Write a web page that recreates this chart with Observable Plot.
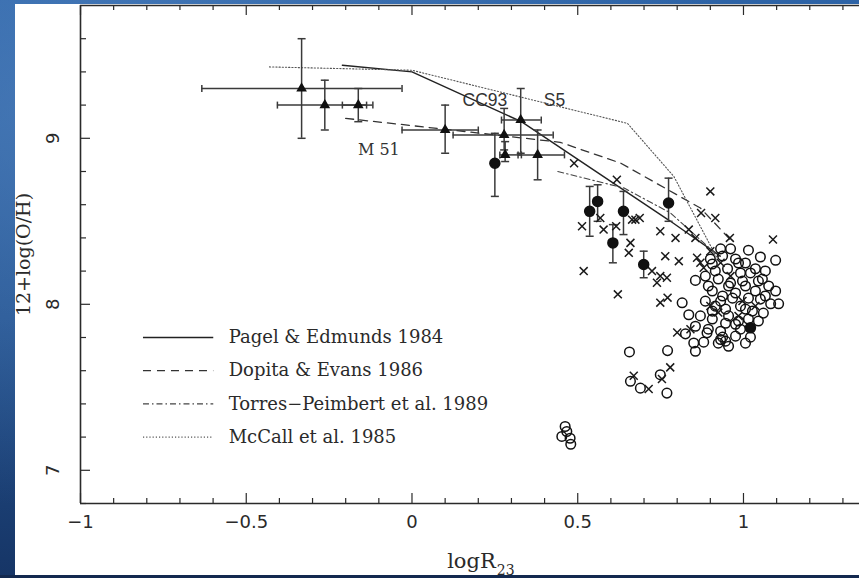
<!DOCTYPE html>
<html>
<head>
<meta charset="utf-8">
<script src="https://cdn.jsdelivr.net/npm/d3@7"></script>
<script src="https://cdn.jsdelivr.net/npm/@observablehq/plot@0.6"></script>
<style>
  html, body { margin: 0; padding: 0; }
  body {
    width: 859px; height: 578px; overflow: hidden; position: relative;
    background:
      radial-gradient(ellipse at 10% 20%, rgba(90,140,200,0.55), rgba(0,0,0,0) 60%),
      linear-gradient(180deg, #2d63a6 0%, #24528e 55%, #163566 100%);
  }
  #panel { position: absolute; left: 15px; top: 4px; width: 844px; height: 571px; background: #fff; }
  #chart { position: absolute; left: 0; top: 0; }
  #strip { position: absolute; left: 0; top: 575px; width: 859px; height: 3px; background: #13294f; z-index: 3; }
</style>
</head>
<body>
<div id="panel"></div>
<div id="chart"></div>
<div id="strip"></div>
<script>
// ---------- axis ticks ----------
const xMajorTicks = [-1, -0.5, 0, 0.5, 1];
const xMajorLabels = ["\u22121", "\u22120.5", "0", "0.5", "1"];
const xMinorTicks = [-0.9,-0.8,-0.7,-0.6,-0.4,-0.3,-0.2,-0.1,0.1,0.2,0.3,0.4,0.6,0.7,0.8,0.9,1.1,1.2,1.3];
const yMajorTicks = [7, 8, 9];
const yMajorLabels = ["7", "8", "9"];
const yMinorTicks = [6.8,7.2,7.4,7.6,7.8,8.2,8.4,8.6,8.8,9.2,9.4,9.6];

// ---------- calibration curves ----------
const pagelX = [-0.21, 0.0, 0.33, 0.78, 0.93];
const pagelY = [9.44, 9.40, 9.10, 8.50, 8.29];
const dopitaX = [-0.20, 0.12, 0.447, 0.63, 0.87, 0.96];
const dopitaY = [9.12, 9.05, 8.976, 8.85, 8.58, 8.39];
const torresX = [0.44, 0.64, 0.78, 0.93];
const torresY = [8.80, 8.70, 8.55, 8.28];
const mccallX = [-0.43, 0.0, 0.65, 0.79, 0.92];
const mccallY = [9.43, 9.41, 9.09, 8.77, 8.28];
const modelNames = ["Pagel & Edmunds 1984", "Dopita & Evans 1986", "Torres\u2212Peimbert et al. 1989", "McCall et al. 1985"];

// ---------- M51 & other galaxies: triangles with 2D errors ----------
const triX   = [-0.333, -0.263, -0.162, 0.100, 0.278, 0.281, 0.328, 0.379];
const triY   = [9.30, 9.20, 9.20, 9.05, 9.02, 8.90, 9.11, 8.90];
const triXlo = [-0.634, -0.406, -0.21, -0.03, 0.124, 0.265, 0.27, 0.32];
const triXhi = [-0.03, -0.137, -0.118, 0.20, 0.426, 0.33, 0.39, 0.46];
const triYlo = [9.00, 9.05, 9.10, 8.91, 8.93, 8.86, 8.91, 8.75];
const triYhi = [9.60, 9.35, 9.30, 9.20, 9.18, 8.98, 9.30, 9.05];

// ---------- filled circles with vertical errors ----------
const dotX   = [0.25, 0.536, 0.560, 0.606, 0.638, 0.699, 0.774];
const dotY   = [8.85, 8.56, 8.62, 8.37, 8.56, 8.24, 8.61];
const dotYlo = [8.65, 8.41, 8.50, 8.25, 8.42, 8.16, 8.50];
const dotYhi = [9.03, 8.71, 8.72, 8.48, 8.68, 8.32, 8.76];
const fillX = [1.021];
const fillY = [7.858];

// ---------- crosses ----------
const crossX = [0.489,0.618,0.900,0.872,0.915,0.959,1.089,0.513,0.578,0.568,0.664,0.687,0.659,0.654,0.518,0.764,0.805,0.749,0.795,0.835,0.855,0.724,0.749,0.769,0.739,0.860,0.880,0.621,0.749,0.771,0.800,0.840,0.669,0.714,0.754,0.779,0.616,0.674,0.900,0.931,0.961,0.997,1.036,0.924,0.900,0.870,0.985];
const crossY = [8.85,8.75,8.68,8.55,8.52,8.40,8.39,8.47,8.45,8.52,8.51,8.52,8.37,8.31,8.20,8.29,8.26,8.44,8.40,8.45,8.40,8.20,8.17,8.16,8.13,8.28,8.22,8.06,8.01,8.04,7.83,7.85,7.57,7.49,7.55,7.62,8.47,8.51,8.32,8.25,8.17,8.02,7.99,7.95,7.99,8.25,7.93];

// ---------- open circles ----------
const circX = [0.931,0.961,1.015,1.051,1.097,0.976,1.006,1.036,1.066,0.991,0.952,0.906,0.885,0.924,0.961,1.006,1.045,1.076,1.097,0.906,0.937,0.976,1.015,1.051,1.082,1.106,0.885,0.915,0.946,0.991,1.027,1.060,0.870,0.906,0.946,0.985,1.015,0.855,0.894,0.931,0.976,0.937,0.880,0.924,0.955,0.855,0.815,0.835,0.825,0.850,0.855,0.656,0.771,0.659,0.689,0.749,0.769,0.462,0.452,0.477,0.479,0.467,0.890,0.931,0.946,0.976,
  0.900,0.937,0.985,1.021,1.057,0.915,0.955,0.997,1.036,1.066,0.894,0.931,0.967,1.006,1.045,0.906,0.955,0.991,1.021,1.006];
const circY = [8.334,8.334,8.326,8.285,8.265,8.273,8.249,8.214,8.201,8.189,8.214,8.243,8.170,8.152,8.128,8.110,8.140,8.110,8.080,8.080,8.050,8.068,8.037,8.031,8.003,8.003,8.019,7.989,7.971,7.989,7.959,7.947,7.930,7.911,7.886,7.899,7.911,7.868,7.850,7.838,7.808,7.802,7.772,7.766,7.747,8.144,8.009,7.937,7.822,7.767,7.717,7.713,7.721,7.536,7.495,7.576,7.465,7.264,7.204,7.193,7.157,7.234,7.828,7.788,7.778,7.880,
  8.273,8.291,8.249,8.189,8.152,8.201,8.110,8.140,8.080,8.050,8.110,8.019,8.037,7.971,7.899,7.959,7.930,7.850,7.802,7.766];

// ---------- annotations ----------
const annText = ["M 51", "CC93", "S5"];
const annX = [-0.10, 0.22, 0.43];
const annY = [8.93, 9.23, 9.23];

// ---------- layout ----------
const W = 859, H = 578, mL = 80, mR = 0, mT = 5, mB = 75;
const plotW = W - mL - mR, plotH = H - mT - mB;
const ink = "#2a2a2a";
const serif = "DejaVu Serif";
const sans = "DejaVu Sans";

const capH = { draw(ctx, size) { const r = Math.sqrt(size / Math.PI); ctx.moveTo(-r, 0); ctx.lineTo(r, 0); } };
const capV = { draw(ctx, size) { const r = Math.sqrt(size / Math.PI); ctx.moveTo(0, -r); ctx.lineTo(0, r); } };

const idx = a => a.map((_, i) => i);
const styles = [
  { strokeDasharray: null, stroke: "#222", strokeWidth: 1.4 },
  { strokeDasharray: "8,6", stroke: "#333", strokeWidth: 1.3 },
  { strokeDasharray: "6,3,1.5,3", stroke: "#444", strokeWidth: 1.1 },
  { strokeDasharray: "1.2,2", stroke: "#555", strokeWidth: 1.1 }
];
const curves = [[pagelX, pagelY], [dopitaX, dopitaY], [torresX, torresY], [mccallX, mccallY]];

const marks = [];
// frame (left, top, bottom)
marks.push(Plot.ruleX([-1], { stroke: ink, strokeWidth: 1.6 }));
marks.push(Plot.ruleY([6.8, 9.8], { stroke: ink, strokeWidth: 1.6 }));
// inward ticks
marks.push(Plot.ruleX(xMinorTicks, { x: d => d, insetTop: plotH - 5, stroke: ink, strokeWidth: 1.2 }));
marks.push(Plot.ruleX(xMajorTicks, { x: d => d, insetTop: plotH - 10, stroke: ink, strokeWidth: 1.2 }));
marks.push(Plot.ruleX(xMinorTicks, { x: d => d, insetBottom: plotH - 5, stroke: ink, strokeWidth: 1.2 }));
marks.push(Plot.ruleX(xMajorTicks, { x: d => d, insetBottom: plotH - 10, stroke: ink, strokeWidth: 1.2 }));
marks.push(Plot.ruleY(yMinorTicks, { y: d => d, insetRight: plotW - 6, stroke: ink, strokeWidth: 1.2 }));
marks.push(Plot.ruleY(yMajorTicks, { y: d => d, insetRight: plotW - 10, stroke: ink, strokeWidth: 1.2 }));
// tick labels
marks.push(Plot.text(idx(xMajorTicks), { x: i => xMajorTicks[i], text: i => xMajorLabels[i], frameAnchor: "bottom", textAnchor: "middle", lineAnchor: "middle", dy: 19, fontSize: 18, fontFamily: sans, fill: ink }));
marks.push(Plot.text(idx(yMajorTicks), { y: i => yMajorTicks[i], text: i => yMajorLabels[i], frameAnchor: "left", textAnchor: "middle", lineAnchor: "middle", dx: -27, rotate: -90, fontSize: 18, fontFamily: sans, fill: ink }));
// axis titles
marks.push(Plot.text(["12+log(O/H)"], { frameAnchor: "left", textAnchor: "middle", lineAnchor: "middle", dx: -57, rotate: -90, fontSize: 19, fontFamily: serif, fill: ink }));
marks.push(Plot.text(["logR"], { x: [0.106], frameAnchor: "bottom", textAnchor: "start", lineAnchor: "middle", dy: 58, fontSize: 21, fontFamily: serif, fill: ink }));
marks.push(Plot.text(["23"], { x: [0.256], frameAnchor: "bottom", textAnchor: "start", lineAnchor: "middle", dy: 67, fontSize: 14, fontFamily: serif, fill: ink }));

// calibration curves
curves.forEach(([xs, ys], k) => {
  marks.push(Plot.line(idx(xs), { x: i => xs[i], y: i => ys[i], ...styles[k], curve: "linear" }));
});

// legend
const legY = [7.8, 7.6, 7.4, 7.2];
modelNames.forEach((name, k) => {
  marks.push(Plot.ruleY([legY[k]], { x1: -0.81, x2: -0.598, ...styles[k] }));
  marks.push(Plot.text([name], { x: -0.553, y: legY[k], textAnchor: "start", fontSize: 18, fontFamily: serif, fill: ink }));
});

// error bars: triangles
const eb = { stroke: "#3a3a3a", strokeWidth: 1.5 };
marks.push(Plot.ruleX(idx(triX), { x: i => triX[i], y1: i => triYlo[i], y2: i => triYhi[i], ...eb }));
marks.push(Plot.ruleY(idx(triX), { y: i => triY[i], x1: i => triXlo[i], x2: i => triXhi[i], ...eb }));
marks.push(Plot.dot(idx(triX), { x: i => triX[i], y: i => triYlo[i], symbol: capH, r: 4, stroke: "#3a3a3a", strokeWidth: 1.5, fill: "none" }));
marks.push(Plot.dot(idx(triX), { x: i => triX[i], y: i => triYhi[i], symbol: capH, r: 4, stroke: "#3a3a3a", strokeWidth: 1.5, fill: "none" }));
marks.push(Plot.dot(idx(triX), { x: i => triXlo[i], y: i => triY[i], symbol: capV, r: 3.5, stroke: "#3a3a3a", strokeWidth: 1.5, fill: "none" }));
marks.push(Plot.dot(idx(triX), { x: i => triXhi[i], y: i => triY[i], symbol: capV, r: 3.5, stroke: "#3a3a3a", strokeWidth: 1.5, fill: "none" }));
// error bars: filled circles
marks.push(Plot.ruleX(idx(dotX), { x: i => dotX[i], y1: i => dotYlo[i], y2: i => dotYhi[i], ...eb }));
marks.push(Plot.dot(idx(dotX), { x: i => dotX[i], y: i => dotYlo[i], symbol: capH, r: 4, stroke: "#3a3a3a", strokeWidth: 1.5, fill: "none" }));
marks.push(Plot.dot(idx(dotX), { x: i => dotX[i], y: i => dotYhi[i], symbol: capH, r: 4, stroke: "#3a3a3a", strokeWidth: 1.5, fill: "none" }));

// open circles
marks.push(Plot.dot(idx(circX), { x: i => circX[i], y: i => circY[i], symbol: "circle", r: 4.8, fill: "none", stroke: "#111", strokeWidth: 1.5 }));
// crosses
marks.push(Plot.dot(idx(crossX), { x: i => crossX[i], y: i => crossY[i], symbol: "times", r: 3.7, fill: "none", stroke: "#1a1a1a", strokeWidth: 1.5 }));
// filled circles
marks.push(Plot.dot(idx(dotX), { x: i => dotX[i], y: i => dotY[i], symbol: "circle", r: 5, fill: "#111", stroke: "#111" }));
marks.push(Plot.dot(idx(fillX), { x: i => fillX[i], y: i => fillY[i], symbol: "circle", r: 5, fill: "#111", stroke: "#111" }));
// triangles
marks.push(Plot.dot(idx(triX), { x: i => triX[i], y: i => triY[i], symbol: "triangle", r: 3.0, fill: "#111", stroke: "#111" }));

// annotations
marks.push(Plot.text([annText[0]], { x: [annX[0]], y: [annY[0]], fontSize: 16, fontFamily: serif, fill: "#333" }));
marks.push(Plot.text([annText[1], annText[2]], { x: [annX[1], annX[2]], y: [annY[1], annY[2]], fontSize: 17.5, fontFamily: "Liberation Sans", fill: "#333" }));

const chart = Plot.plot({
  width: W, height: H,
  marginLeft: mL, marginRight: mR, marginTop: mT, marginBottom: mB,
  style: { background: "transparent", overflow: "visible" },
  x: { domain: [-1, 1.35], axis: null },
  y: { domain: [6.8, 9.8], axis: null },
  marks
});
document.getElementById("chart").appendChild(chart);
</script>
</body>
</html>
